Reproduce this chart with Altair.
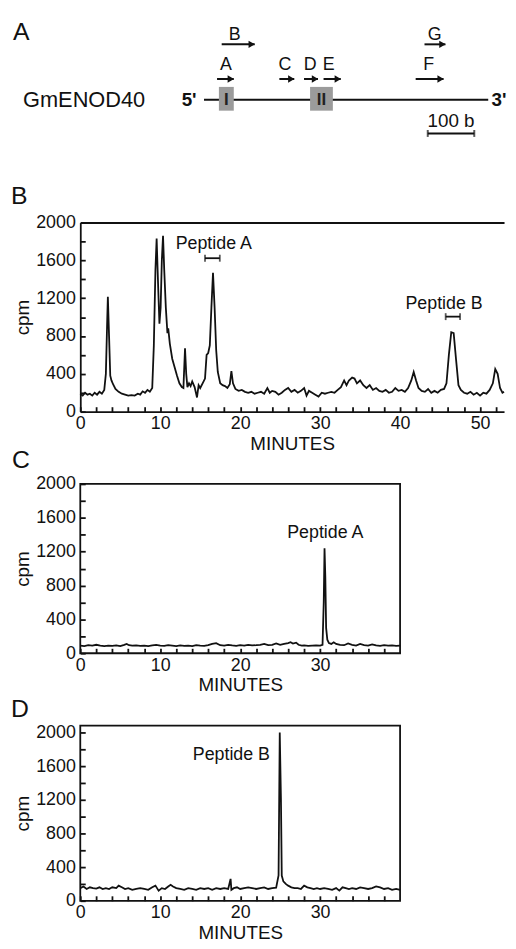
import altair as alt
import pandas as pd

FONT = "Liberation Sans"
INK = "#111111"

# ---------------- Panel A: gene map (positions in bases) ----------------
gene_name = "GmENOD40"
gene_length = 611
exon_names = ["I", "II"]
exon_start = [32, 228]
exon_end = [64, 277]
primer_names = ["A", "B", "C", "D", "E", "F", "G"]
primer_start = [28, 38, 162, 215, 257, 455, 474]
primer_end = [64, 109, 194, 245, 294, 515, 519]
primer_label_pos = [47, 66, 174, 228, 268, 483, 496]
primer_row = [1, 2, 1, 1, 1, 1, 2]
end_labels = ["5'", "3'"]
end_label_pos = [-32, 634]
scale_bar = [481, 581]
scale_label = "100 b"

# ---------------- Panel B: full HPLC profile ----------------
b_minutes = [0.0, 0.3, 0.6, 0.9, 1.2, 1.5, 1.8, 2.1, 2.4, 2.7, 3.0, 3.2, 3.35, 3.45, 3.6, 3.75, 3.9, 4.1, 4.4, 4.8,
             5.2, 5.6, 6.0, 6.4, 6.8, 7.2, 7.5, 7.8, 8.1, 8.4, 8.7, 9.0, 9.2, 9.4, 9.55, 9.75, 9.9, 10.05, 10.2, 10.35,
             10.5, 10.7, 10.9, 11.0, 11.2, 11.5, 11.8, 12.1, 12.4, 12.7, 12.9, 13.1, 13.25, 13.4, 13.6, 13.8, 14.0, 14.3, 14.6, 14.8,
             15.0, 15.3, 15.6, 15.8, 16.0, 16.2, 16.4, 16.6, 16.8, 17.0, 17.2, 17.5, 17.8, 18.1, 18.4, 18.7, 18.9, 19.1, 19.4, 19.8,
             20.2, 20.6, 21.0, 21.4, 21.8, 22.2, 22.6, 23.0, 23.4, 23.7, 24.0, 24.4, 24.8, 25.2, 25.6, 26.0, 26.4, 26.8, 27.2, 27.6,
             28.0, 28.3, 28.6, 29.0, 29.4, 29.8, 30.2, 30.6, 31.0, 31.4, 31.8, 32.2, 32.6, 33.0, 33.3, 33.6, 34.0, 34.3, 34.6, 35.0,
             35.4, 35.8, 36.2, 36.6, 37.0, 37.4, 37.8, 38.2, 38.6, 39.0, 39.4, 39.8, 40.2, 40.6, 41.0, 41.4, 41.7, 42.0, 42.3, 42.7,
             43.1, 43.5, 43.9, 44.3, 44.7, 45.1, 45.5, 45.8, 46.1, 46.4, 46.7, 47.0, 47.3, 47.6, 48.0, 48.4, 48.8, 49.2, 49.6, 50.0,
             50.4, 50.8, 51.2, 51.6, 51.9, 52.2, 52.5, 52.8, 53.0]
b_cpm = [190, 170, 200, 180, 190, 170, 200, 180, 210, 190, 230, 400, 900, 1215, 800, 380, 330, 290, 240, 210,
         190, 180, 170, 175, 170, 190, 180, 215, 200, 230, 210, 250, 700, 1500, 1830, 1300, 930, 1100, 1600, 1860,
         1500, 1100, 830, 880, 720, 560, 470, 380, 300, 260, 250, 670, 400, 260, 300, 270, 320, 260, 150, 280,
         250, 300, 350, 600, 620, 700, 1100, 1470, 1100, 650, 420, 300, 280, 270, 250, 290, 430, 300, 240, 220,
         230, 210, 200, 210, 190, 200, 210, 190, 250, 200, 220, 210, 180, 200, 230, 250, 210, 230, 200, 220,
         250, 170, 220, 200, 180, 160, 200, 190, 200, 210, 200, 230, 260, 330, 280, 330, 360, 350, 300, 330,
         280, 250, 280, 230, 250, 220, 210, 230, 200, 210, 250, 220, 230, 210, 250, 330, 420, 330, 250, 220,
         210, 240, 200, 220, 200, 230, 240, 300, 600, 840, 830, 550, 280, 230, 200, 190, 210, 180, 200, 170,
         200, 190, 230, 300, 450, 400, 250, 200, 210]

# ---------------- Panel C: peptide A rerun ----------------
c_minutes = [0, 0.5, 1, 1.5, 2, 2.5, 3, 3.5, 4, 4.5, 5, 5.5, 5.8, 6.1, 6.5, 7, 7.5, 8, 8.5, 9,
             9.5, 10, 10.5, 11, 11.5, 12, 12.5, 13, 13.5, 14, 14.5, 15, 15.5, 16, 16.5, 17, 17.5, 18, 18.5, 19,
             19.5, 20, 20.5, 21, 21.5, 22, 22.5, 23, 23.5, 24, 24.5, 25, 25.5, 26, 26.3, 26.6, 27, 27.3, 27.7, 28,
             28.5, 29, 29.5, 30, 30.3, 30.45, 30.55, 30.65, 30.75, 30.9, 31.1, 31.4, 31.7, 32, 32.5, 33, 33.5, 34, 34.5, 35,
             35.5, 36, 36.5, 37, 37.5, 38, 38.5, 39, 39.5, 40]
c_cpm = [90, 85, 95, 90, 100, 90, 85, 90, 88, 92, 85, 100, 110, 95, 90, 92, 88, 90, 85, 92,
         100, 90, 88, 95, 90, 85, 92, 88, 90, 85, 95, 90, 88, 95, 110, 120, 95, 90, 100, 92,
         88, 95, 90, 100, 92, 95, 100, 110, 95, 100, 115, 100, 110, 120, 130, 115, 125, 100, 90, 92,
         88, 90, 92, 90, 100, 600, 1240, 900, 300, 160, 120, 110, 130, 110, 100, 95, 115, 100, 90, 110,
         95, 90, 105, 92, 88, 95, 90, 92, 88, 90]

# ---------------- Panel D: peptide B rerun ----------------
d_minutes = [0, 0.4, 0.8, 1.2, 1.6, 2, 2.4, 2.8, 3.2, 3.6, 4, 4.5, 4.8, 5.2, 5.6, 6, 6.5, 7, 7.5, 8,
             8.5, 9, 9.4, 9.6, 9.8, 10.2, 10.6, 11, 11.3, 11.6, 12, 12.5, 13, 13.5, 14, 14.5, 15, 15.5, 16, 16.5,
             17, 17.5, 18, 18.5, 18.8, 18.9, 19.2, 19.6, 20, 20.5, 21, 21.5, 22, 22.5, 23, 23.5, 24, 24.5, 24.8, 24.95,
             25.1, 25.2, 25.4, 25.7, 26, 26.4, 26.8, 27.2, 27.6, 28, 28.4, 28.8, 29.2, 29.6, 30, 30.5, 31, 31.5, 32, 32.4,
             32.8, 33.2, 33.6, 34, 34.5, 35, 35.5, 36, 36.5, 37, 37.5, 38, 38.5, 39, 39.5, 40]
d_cpm = [150, 170, 140, 160, 150, 145, 160, 140, 150, 140, 160, 150, 180, 160, 140, 150, 130, 140, 150, 140,
         130, 160, 180, 150, 120, 150, 140, 170, 190, 170, 150, 140, 130, 150, 140, 130, 150, 140, 150, 130,
         150, 140, 150, 140, 260, 130, 150, 160, 140, 150, 160, 150, 140, 150, 160, 140, 150, 155, 300, 2000,
         1200, 300, 230, 200, 180, 160, 150, 150, 140, 180, 160, 150, 140, 150, 140, 150, 140, 130, 150, 120,
         160, 150, 140, 150, 140, 160, 150, 140, 150, 170, 160, 140, 150, 130, 140, 130]

# annotations (data units: minutes, cpm)
b_notes = ["Peptide A", "Peptide B"]
b_note_x = [16.7, 45.5]
b_note_y = [1770, 1141]
b_bracket_from = [15.6, 45.7]
b_bracket_to = [17.45, 47.5]
b_bracket_y = [1623, 1005]
c_note, c_note_x, c_note_y = "Peptide A", 30.65, 1419
d_note, d_note_x, d_note_y = "Peptide B", 18.9, 1729

b_xticks = list(range(0, 53, 2))
cd_xticks = list(range(0, 40, 2))
yticks = list(range(0, 2001, 200))

LABEL_SIZE = 18
TITLE_SIZE = 19


def x_axis(values, title="MINUTES"):
    return alt.Axis(orient="bottom", values=values,
                    labelExpr="datum.value % 10 === 0 ? datum.label : ''",
                    offset=-5, tickSize=5, tickWidth=1.8, tickColor=INK, domain=False, grid=False,
                    labelFont=FONT, labelFontSize=LABEL_SIZE, labelColor=INK, labelPadding=3,
                    labelFlush=False, labelOverlap=False, format="d",
                    title=title, titleFont=FONT, titleFontSize=TITLE_SIZE, titleFontWeight="normal",
                    titleColor=INK, titlePadding=2)


def y_axis(values, title="cpm"):
    return alt.Axis(orient="left", values=values,
                    labelExpr="datum.value % 400 === 0 ? datum.label : ''",
                    offset=-5, tickSize=5, tickWidth=1.8, tickColor=INK, domain=False, grid=False,
                    labelFont=FONT, labelFontSize=LABEL_SIZE, labelColor=INK, labelPadding=5,
                    labelFlush=False, labelOverlap=False, format="d",
                    title=title, titleFont=FONT, titleFontSize=TITLE_SIZE, titleFontWeight="normal",
                    titleColor=INK, titlePadding=3)


def letter(ch, dx, dy):
    return alt.Chart(pd.DataFrame({"s": [ch]})).mark_text(
        font=FONT, fontSize=25, align="left", baseline="alphabetic", color=INK
    ).encode(x=alt.value(dx), y=alt.value(dy), text="s:N")


def trace(df, xs, ys, xt):
    return alt.Chart(df).mark_line(color=INK, strokeWidth=1.8).encode(
        x=alt.X("t:Q", scale=xs, axis=x_axis(xt)),
        y=alt.Y("v:Q", scale=ys, axis=y_axis(yticks)),
    )


def note(df, xs, ys):
    return alt.Chart(df).mark_text(font=FONT, fontSize=18, color=INK, align="center", baseline="middle").encode(
        x=alt.X("x:Q", scale=xs, axis=None),
        y=alt.Y("y:Q", scale=ys, axis=None),
        text="s:N",
    )


# ---------------- Panel A chart ----------------
xsA = alt.Scale(domain=[-266, 645], nice=False, zero=False)
ysA = alt.Scale(domain=[0, 12.9], nice=False, zero=False)
arrow_level = {1: 7.2, 2: 10.7}
label_level = {1: 8.1, 2: 11.1}
line_level = 5.1

gene_df = pd.DataFrame({"x": [0], "x2": [gene_length], "y": [line_level]})
exon_df = pd.DataFrame({"name": exon_names, "x": exon_start, "x2": exon_end,
                        "y": [4.0] * len(exon_names), "y2": [6.4] * len(exon_names)})
exon_df["mid"] = (exon_df["x"] + exon_df["x2"]) / 2
exon_df["ym"] = line_level
primer_df = pd.DataFrame({"name": primer_names, "x": primer_start, "x2": primer_end,
                          "lx": primer_label_pos,
                          "y": [arrow_level[r] for r in primer_row],
                          "ly": [label_level[r] for r in primer_row]})
ends_df = pd.DataFrame({"s": end_labels, "x": end_label_pos, "y": [line_level] * 2})
name_df = pd.DataFrame({"s": [gene_name], "x": [-389], "y": [line_level]})
bar_df = pd.DataFrame({"x": [scale_bar[0]], "x2": [scale_bar[1]], "y": [1.7]})
cap_df = pd.DataFrame({"x": scale_bar, "y": [1.7, 1.7]})
bar_label_df = pd.DataFrame({"s": [scale_label], "x": [(scale_bar[0] + scale_bar[1]) / 2], "y": [2.4]})

XA = lambda f: alt.X(f, scale=xsA, axis=None)
YA = lambda f: alt.Y(f, scale=ysA, axis=None)

gene_line = alt.Chart(gene_df).mark_rule(color=INK, strokeWidth=2).encode(
    x=XA("x:Q"), x2="x2:Q", y=YA("y:Q"))
exons = alt.Chart(exon_df).mark_rect(color="#9b9b9b").encode(
    x=XA("x:Q"), x2="x2:Q", y=YA("y:Q"), y2="y2:Q")
exon_text = alt.Chart(exon_df).mark_text(font=FONT, fontSize=17, fontWeight="bold", color="#222222",
                                         baseline="middle").encode(
    x=XA("mid:Q"), y=YA("ym:Q"), text="name:N")
shafts = alt.Chart(primer_df).mark_rule(color=INK, strokeWidth=2).encode(
    x=XA("x:Q"), x2="x2:Q", y=YA("y:Q"))
heads = alt.Chart(primer_df).mark_point(shape="triangle-right", filled=True, color=INK, size=55,
                                        opacity=1, xOffset=-3).encode(
    x=XA("x2:Q"), y=YA("y:Q"))
primer_text = alt.Chart(primer_df).mark_text(font=FONT, fontSize=18, color=INK, baseline="alphabetic").encode(
    x=XA("lx:Q"), y=YA("ly:Q"), text="name:N")
ends_text = alt.Chart(ends_df).mark_text(font=FONT, fontSize=19, fontWeight="bold", color=INK,
                                         baseline="middle").encode(
    x=XA("x:Q"), y=YA("y:Q"), text="s:N")
name_text = alt.Chart(name_df).mark_text(font=FONT, fontSize=22, color=INK, align="left",
                                         baseline="middle").encode(
    x=XA("x:Q"), y=YA("y:Q"), text="s:N")
bar = alt.Chart(bar_df).mark_rule(color=INK, strokeWidth=2).encode(x=XA("x:Q"), x2="x2:Q", y=YA("y:Q"))
caps = alt.Chart(cap_df).mark_tick(orient="vertical", color=INK, size=7, thickness=2).encode(
    x=XA("x:Q"), y=YA("y:Q"))
bar_text = alt.Chart(bar_label_df).mark_text(font=FONT, fontSize=19, color=INK, baseline="alphabetic").encode(
    x=XA("x:Q"), y=YA("y:Q"), text="s:N")

panelA = alt.layer(gene_line, exons, exon_text, shafts, heads, primer_text, ends_text, name_text,
                   bar, caps, bar_text, letter("A", -68, 18)).properties(width=428, height=129)

# ---------------- Panel B chart ----------------
xsB = alt.Scale(domain=[0, 53], nice=False, zero=False)
ysB = alt.Scale(domain=[0, 2000], nice=False, zero=True)
dfB = pd.DataFrame({"t": b_minutes, "v": b_cpm})
border_tl = alt.Chart(dfB).mark_line(opacity=0).encode(
    x=alt.X("t:Q", scale=xsB, axis=alt.Axis(orient="top", domain=True, domainColor=INK, domainWidth=2,
                                            ticks=False, labels=False, title=None, grid=False)),
    y=alt.Y("v:Q", scale=ysB, axis=alt.Axis(orient="left", domain=True, domainColor=INK, domainWidth=1.8,
                                            ticks=False, labels=False, title=None, grid=False)))
border_b = alt.Chart(dfB).mark_line(opacity=0).encode(
    x=alt.X("t:Q", scale=xsB, axis=alt.Axis(orient="bottom", domain=True, domainColor=INK, domainWidth=1.8,
                                            ticks=False, labels=False, title=None, grid=False)),
    y=alt.Y("v:Q", scale=ysB, axis=None))
notesB = pd.DataFrame({"s": b_notes, "x": b_note_x, "y": b_note_y})
bracketB = pd.DataFrame({"x": b_bracket_from, "x2": b_bracket_to, "y": b_bracket_y})
capsB = pd.DataFrame({"x": b_bracket_from + b_bracket_to, "y": b_bracket_y + b_bracket_y})
b_br = alt.Chart(bracketB).mark_rule(color=INK, strokeWidth=1.8).encode(
    x=alt.X("x:Q", scale=xsB, axis=None), x2="x2:Q", y=alt.Y("y:Q", scale=ysB, axis=None))
b_caps = alt.Chart(capsB).mark_tick(orient="vertical", color=INK, size=7, thickness=1.8).encode(
    x=alt.X("x:Q", scale=xsB, axis=None), y=alt.Y("y:Q", scale=ysB, axis=None))

panelB = alt.layer(trace(dfB, xsB, ysB, b_xticks), border_tl, border_b, note(notesB, xsB, ysB),
                   b_br, b_caps, letter("B", -70, -19)).resolve_axis(
    x="independent", y="independent").properties(width=428, height=191)

# ---------------- Panel C chart ----------------
xsC = alt.Scale(domain=[0, 40], nice=False, zero=False)
ysC = alt.Scale(domain=[0, 2000], nice=False, zero=True)
dfC = pd.DataFrame({"t": c_minutes, "v": c_cpm})
panelC = alt.layer(trace(dfC, xsC, ysC, cd_xticks),
                   note(pd.DataFrame({"s": [c_note], "x": [c_note_x], "y": [c_note_y]}), xsC, ysC),
                   letter("C", -69, -16)).resolve_axis(
    x="independent", y="independent").properties(
    width=323, height=171, view=alt.ViewBackground(stroke=INK, strokeWidth=1.8))

# ---------------- Panel D chart ----------------
xsD = alt.Scale(domain=[0, 40], nice=False, zero=False)
ysD = alt.Scale(domain=[0, 2082], nice=False, zero=True)
dfD = pd.DataFrame({"t": d_minutes, "v": d_cpm})
panelD = alt.layer(trace(dfD, xsD, ysD, cd_xticks),
                   note(pd.DataFrame({"s": [d_note], "x": [d_note_x], "y": [d_note_y]}), xsD, ysD),
                   letter("D", -70, -9)).resolve_axis(
    x="independent", y="independent").properties(
    width=323, height=177, view=alt.ViewBackground(stroke=INK, strokeWidth=1.8))

chart = alt.vconcat(panelA, panelB, panelC, panelD, spacing=73, bounds="flush").properties(
    padding={"left": 2, "top": 8, "right": 0, "bottom": 0},
    background="white",
).configure_view(stroke=None)

chart.save("out.html", embed_options={"renderer": "svg", "actions": False})
